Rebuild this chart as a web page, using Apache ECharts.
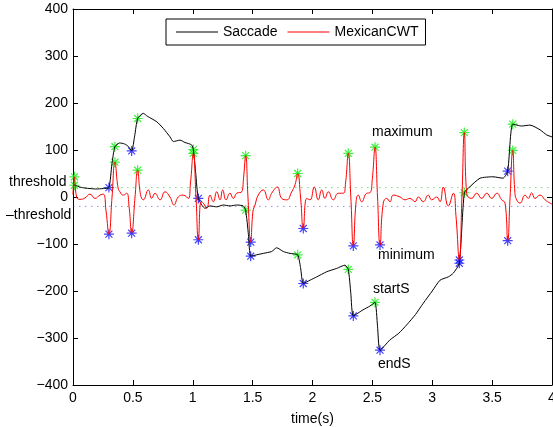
<!DOCTYPE html>
<html>
<head>
<meta charset="utf-8">
<script src="https://cdn.jsdelivr.net/npm/echarts@6/dist/echarts.min.js"></script>
<style>
html,body{margin:0;padding:0;background:#fff;}
#c{width:553px;height:427px;}
</style>
</head>
<body>
<div id="c"></div>
<script>
// ---- data ----
const xTicks = [0, 0.5, 1, 1.5, 2, 2.5, 3, 3.5, 4];
const yTicks = [-400, -300, -200, -100, 0, 100, 200, 300, 400];
const seriesNames = ['Saccade', 'MexicanCWT'];
const thresholdValue = 20;

const sacT = [0, 0.017, 0.06, 0.10, 0.142, 0.19, 0.253, 0.30, 0.325, 0.35,
  0.39, 0.43, 0.46, 0.49, 0.515, 0.54, 0.587, 0.62, 0.70, 0.754,
  0.81, 0.838, 0.894, 0.935, 0.99, 1.005, 1.025, 1.047, 1.102, 1.144,
  1.20, 1.255, 1.311, 1.367, 1.422, 1.442, 1.465, 1.484, 1.534, 1.589,
  1.659, 1.701, 1.756, 1.812, 1.876, 1.90, 1.923, 1.979, 2.035, 2.119,
  2.202, 2.271, 2.299, 2.32, 2.341, 2.422, 2.48, 2.522, 2.543, 2.564,
  2.647, 2.72, 2.787, 2.86, 2.925, 3.0, 3.065, 3.134, 3.176, 3.226,
  3.268, 3.315, 3.399, 3.507, 3.591, 3.63, 3.672, 3.747, 3.816, 3.90,
  3.956, 4.0];
const sacV = [27, 25, 21, 19, 18, 17, 18, 20, 70, 107,
  115, 113, 108, 98, 130, 167, 178, 172, 160, 146,
  128, 118, 121, 116, 111, 101, 50, -3, -24, -19,
  -21, -17, -19, -17, -19, -28, -80, -126, -123, -120,
  -116, -108, -116, -120, -123, -150, -184, -177, -170, -159,
  -152, -145, -154, -205, -253, -240, -232, -224, -275, -326,
  -304, -290, -272, -250, -226, -200, -177, -170, -162, -141,
  9, 22, 40, 43, 40, 55, 155, 151, 153, 143,
  132, 128];

const cwtT = [0, 0.012, 0.03, 0.058, 0.10, 0.142, 0.184, 0.225, 0.253, 0.276,
  0.30, 0.326, 0.35, 0.376, 0.392, 0.42, 0.448, 0.468, 0.49, 0.518,
  0.54, 0.564, 0.587, 0.629, 0.657, 0.685, 0.727, 0.768, 0.81, 0.843,
  0.879, 0.921, 0.963, 0.981, 1.005, 1.027, 1.047, 1.07, 1.088, 1.117,
  1.144, 1.172, 1.20, 1.228, 1.25, 1.278, 1.311, 1.339, 1.367, 1.409,
  1.424, 1.442, 1.461, 1.484, 1.503, 1.52, 1.547, 1.589, 1.631, 1.659,
  1.706, 1.743, 1.785, 1.826, 1.854, 1.876, 1.90, 1.923, 1.952, 1.979,
  2.015, 2.048, 2.077, 2.104, 2.132, 2.174, 2.215, 2.257, 2.276, 2.299,
  2.32, 2.341, 2.364, 2.382, 2.411, 2.453, 2.48, 2.50, 2.522, 2.543,
  2.564, 2.591, 2.62, 2.647, 2.675, 2.731, 2.772, 2.814, 2.856, 2.884,
  2.925, 2.967, 2.995, 3.037, 3.065, 3.092, 3.134, 3.176, 3.198, 3.226,
  3.248, 3.268, 3.287, 3.329, 3.371, 3.413, 3.455, 3.497, 3.539, 3.58,
  3.608, 3.63, 3.65, 3.672, 3.69, 3.705, 3.733, 3.775, 3.802, 3.83,
  3.858, 3.90, 3.942, 3.983, 4.0];
const cwtV = [5, 43, 0, -5, -2, 6, -3, 4, 6, -30,
  -79, 0, 74, 20, 11, 4, 8, -20, -77, 0,
  57, 5, -6, 15, -3, 8, -6, 11, 0, -17,
  0, 4, -3, 30, 93, 0, -91, -10, -13, -24,
  4, -10, 11, -6, 15, -6, 8, -3, 8, 11,
  40, 88, 0, -96, -30, -17, 4, 15, -6, 8,
  21, -3, -6, 11, 26, 50, 0, -67, -3, -6,
  21, -6, 15, -3, 11, -6, 8, 8, 30, 93,
  0, -104, -10, 4, -10, 8, 9, 40, 106, 0,
  -102, -13, -3, -10, 4, 0, -6, -3, -10, 0,
  -10, 4, -6, 0, -10, 21, -19, 8, -40, -134,
  0, 137, 8, -3, 8, -3, 8, -3, 8, -6,
  -13, -93, 0, 99, 10, -6, -13, 4, -3, 9,
  -3, 4, -6, -13, -15];

const maxT   = [0.012, 0.35, 0.54, 1.005, 1.442, 1.876, 2.299, 2.522, 3.268, 3.672];
const maxCwt = [43, 74, 57, 93, 88, 50, 93, 106, 137, 99];
const maxSac = [25, 107, 167, 101, -28, -123, -154, -224, 9, 155];
const minT   = [0.30, 0.49, 1.047, 1.484, 1.923, 2.341, 2.564, 3.226, 3.63];
const minCwt = [-79, -77, -91, -96, -67, -104, -102, -134, -93];
const minSac = [20, 98, -3, -126, -184, -253, -326, -141, 55];

const annotations = ['maximum', 'minimum', 'startS', 'endS'];
const thresholdLabels = ['threshold', '–threshold'];

// ---- build ----
const zip = (a, b) => a.map((v, i) => [v, b[i]]);
const STAR = 'path://M8.8 0 H11.2 V20 H8.8 Z M0 8.8 H20 V11.2 H0 Z M3.9 2.2 L17.8 16.1 L16.1 17.8 L2.2 3.9 Z M16.1 2.2 L17.8 3.9 L3.9 17.8 L2.2 16.1 Z';
const FONT = 'Liberation Sans, Arial, Helvetica, sans-serif';
const fmtNum = v => String(v).replace('-', '\u2212');

const chart = echarts.init(document.getElementById('c'), null, {renderer: 'canvas'});
const axisCommon = {
  type: 'value',
  axisLine: {show: true, onZero: false, lineStyle: {color: '#000', width: 1}},
  axisTick: {show: true, inside: true, length: 5, lineStyle: {color: '#000'}},
  splitLine: {show: false}
};
chart.setOption({
  animation: false,
  backgroundColor: '#fff',
  textStyle: {fontFamily: FONT},
  grid: {left: 73, right: 1, top: 9, bottom: 42, outerBoundsMode: 'none', containLabel: false},
  legend: {
    data: seriesNames,
    left: 166, top: 19,
    padding: [6, 7, 6, 10],
    itemGap: 10,
    itemWidth: 42, itemHeight: 1,
    icon: 'rect',
    borderColor: '#000', borderWidth: 1,
    backgroundColor: '#fff',
    textStyle: {fontSize: 14, color: '#000', fontFamily: FONT}
  },
  xAxis: [
    Object.assign({}, axisCommon, {
      min: xTicks[0], max: xTicks[xTicks.length - 1], interval: xTicks[1] - xTicks[0],
      position: 'bottom',
      name: 'time(s)', nameLocation: 'middle', nameGap: 27,
      nameTextStyle: {fontSize: 14, color: '#000', fontFamily: FONT},
      axisLabel: {fontSize: 14, color: '#000', margin: 6, fontFamily: FONT, formatter: fmtNum}
    }),
    Object.assign({}, axisCommon, {
      min: xTicks[0], max: xTicks[xTicks.length - 1], interval: xTicks[1] - xTicks[0],
      position: 'top', axisLabel: {show: false}
    })
  ],
  yAxis: [
    Object.assign({}, axisCommon, {
      min: yTicks[0], max: yTicks[yTicks.length - 1], interval: yTicks[1] - yTicks[0],
      position: 'left',
      axisLabel: {fontSize: 14, color: '#000', margin: 5, fontFamily: FONT, formatter: fmtNum}
    }),
    Object.assign({}, axisCommon, {
      min: yTicks[0], max: yTicks[yTicks.length - 1], interval: yTicks[1] - yTicks[0],
      position: 'right', axisLabel: {show: false}
    })
  ],
  series: [
    {
      name: 'threshold+', type: 'line', symbol: 'none', silent: true,
      data: [[xTicks[0], thresholdValue], [xTicks[xTicks.length - 1], thresholdValue]],
      lineStyle: {color: '#22dd22', width: 1, type: [1.5, 4.5], opacity: 0.7}
    },
    {
      name: 'threshold-', type: 'line', symbol: 'none', silent: true,
      data: [[xTicks[0], -thresholdValue], [xTicks[xTicks.length - 1], -thresholdValue]],
      lineStyle: {color: '#4444ff', width: 1, type: [1.5, 4.5], opacity: 0.6}
    },
    {
      name: seriesNames[0], type: 'line', symbol: 'none', smooth: 0.2,
      data: zip(sacT, sacV), color: '#000',
      lineStyle: {color: '#000', width: 1}
    },
    {
      name: seriesNames[1], type: 'line', symbol: 'none', smooth: 0.5,
      data: zip(cwtT, cwtV), color: '#ff0000',
      lineStyle: {color: '#ff0000', width: 1}
    },
    {
      name: 'maxMarks', type: 'scatter', symbol: STAR, symbolSize: 10,
      itemStyle: {color: '#11ee11'},
      data: zip(maxT, maxCwt).concat(zip(maxT, maxSac))
    },
    {
      name: 'minMarks', type: 'scatter', symbol: STAR, symbolSize: 10,
      itemStyle: {color: '#1515ff'},
      data: zip(minT, minCwt).concat(zip(minT, minSac))
    }
  ],
  graphic: [
    {type: 'text', left: 372, top: 125, style: {text: annotations[0], font: '14px ' + FONT, fill: '#000'}},
    {type: 'text', left: 378, top: 248, style: {text: annotations[1], font: '14px ' + FONT, fill: '#000'}},
    {type: 'text', left: 373, top: 282, style: {text: annotations[2], font: '14px ' + FONT, fill: '#000'}},
    {type: 'text', left: 378, top: 357, style: {text: annotations[3], font: '14px ' + FONT, fill: '#000'}},
    {type: 'text', left: 9, top: 175, style: {text: thresholdLabels[0], font: '14px ' + FONT, fill: '#000'}},
    {type: 'text', left: 6, top: 208, style: {text: thresholdLabels[1], font: '14px ' + FONT, fill: '#000'}}
  ]
});
</script>
</body>
</html>
